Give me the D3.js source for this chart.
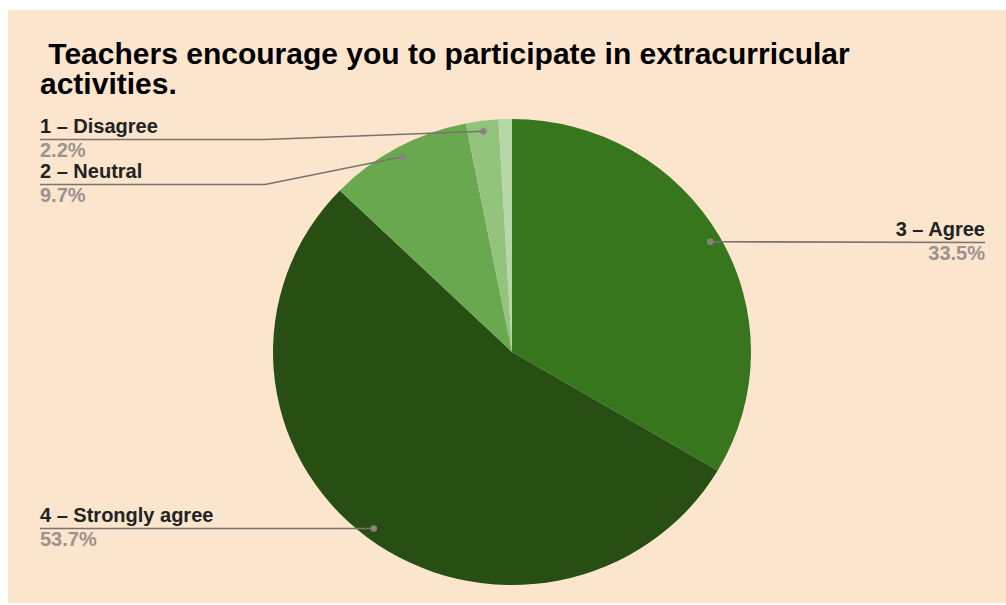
<!DOCTYPE html>
<html>
<head>
<meta charset="utf-8">
<script src="https://cdn.jsdelivr.net/npm/d3@7"></script>
<style>
  html, body { margin: 0; padding: 0; background: #ffffff; }
  svg { display: block; }
</style>
</head>
<body>
<svg id="chart" width="1006" height="605"></svg>
<script>
// ---- data ----
const titleLines = [" Teachers encourage you to participate in extracurricular", "activities."];
const categories = ["3 – Agree", "4 – Strongly agree", "2 – Neutral", "1 – Disagree", "0 – Strongly disagree"];
const values = [33.5, 53.7, 9.7, 2.2, 0.9];
const percentLabels = ["33.5%", "53.7%", "9.7%", "2.2%", ""];
const showLabel = [true, true, true, true, false];

// ---- styling / layout (not data) ----
const colors = ["#38761d", "#274e13", "#6aa84f", "#93c47d", "#b6d7a8"];
const cx = 512, cy = 352, rx = 239, ry = 233;
const labelLayout = [
  { side: "right", y: 236 },
  { side: "left", y: 522 },
  { side: "left", y: 178 },
  { side: "left", y: 133 },
  null
];
const leftX = 40, rightX = 985, elbowX = 265;
const font = "Liberation Sans, Arial, sans-serif";

const svg = d3.select("#chart");

svg.append("rect")
  .attr("x", 8).attr("y", 10).attr("width", 998).attr("height", 593)
  .attr("fill", "#fce5cd");

// title
const title = svg.append("text")
  .attr("font-family", font)
  .attr("font-weight", "bold")
  .attr("font-size", 30)
  .attr("fill", "#000")
  .style("white-space", "pre");
titleLines.forEach((t, i) => {
  title.append("tspan").attr("x", 40).attr("y", 64 + i * 30).text(t);
});

// pie
const pie = d3.pie().sort(null).value(d => d)(values);
const arc = d3.arc().innerRadius(0).outerRadius(rx);
const g = svg.append("g").attr("transform", `translate(${cx},${cy}) scale(1,${ry / rx})`);
g.selectAll("path").data(pie).enter().append("path")
  .attr("d", arc)
  .attr("fill", (d, i) => colors[i]);

// leader dots and lines
const dotArc = d3.arc().innerRadius(rx * 0.955).outerRadius(rx * 0.955);
const lblG = svg.append("g");
pie.forEach((d, i) => {
  if (!showLabel[i]) return;
  const c = dotArc.centroid(d);
  let px = cx + c[0], py = cy + c[1] * ry / rx;
  const L = labelLayout[i];
  const lineY = L.y + 6.5;
  let pts;
  if (L.side === "right") {
    pts = [[px, py], [rightX, lineY]];
  } else if (Math.abs(py - lineY) < 3) {
    py = lineY;
    pts = [[px, lineY], [leftX, lineY]];
  } else {
    pts = [[px, py], [elbowX, lineY], [leftX, lineY]];
  }
  lblG.append("path")
    .attr("d", d3.line()(pts))
    .attr("fill", "none")
    .attr("stroke", "#7a726e")
    .attr("stroke-width", 1.6);
  lblG.append("circle")
    .attr("cx", px).attr("cy", py)
    .attr("r", 3.2)
    .attr("fill", "#8c8280");
  const anchor = L.side === "right" ? "end" : "start";
  const tx = L.side === "right" ? rightX : leftX;
  lblG.append("text")
    .attr("x", tx).attr("y", L.y)
    .attr("text-anchor", anchor)
    .attr("font-family", font)
    .attr("font-weight", "bold")
    .attr("font-size", 20)
    .attr("fill", "#222222")
    .text(categories[i]);
  lblG.append("text")
    .attr("x", tx).attr("y", L.y + 24)
    .attr("text-anchor", anchor)
    .attr("font-family", font)
    .attr("font-weight", "bold")
    .attr("font-size", 20)
    .attr("fill", "#9a9390")
    .text(percentLabels[i]);
});
</script>
</body>
</html>
